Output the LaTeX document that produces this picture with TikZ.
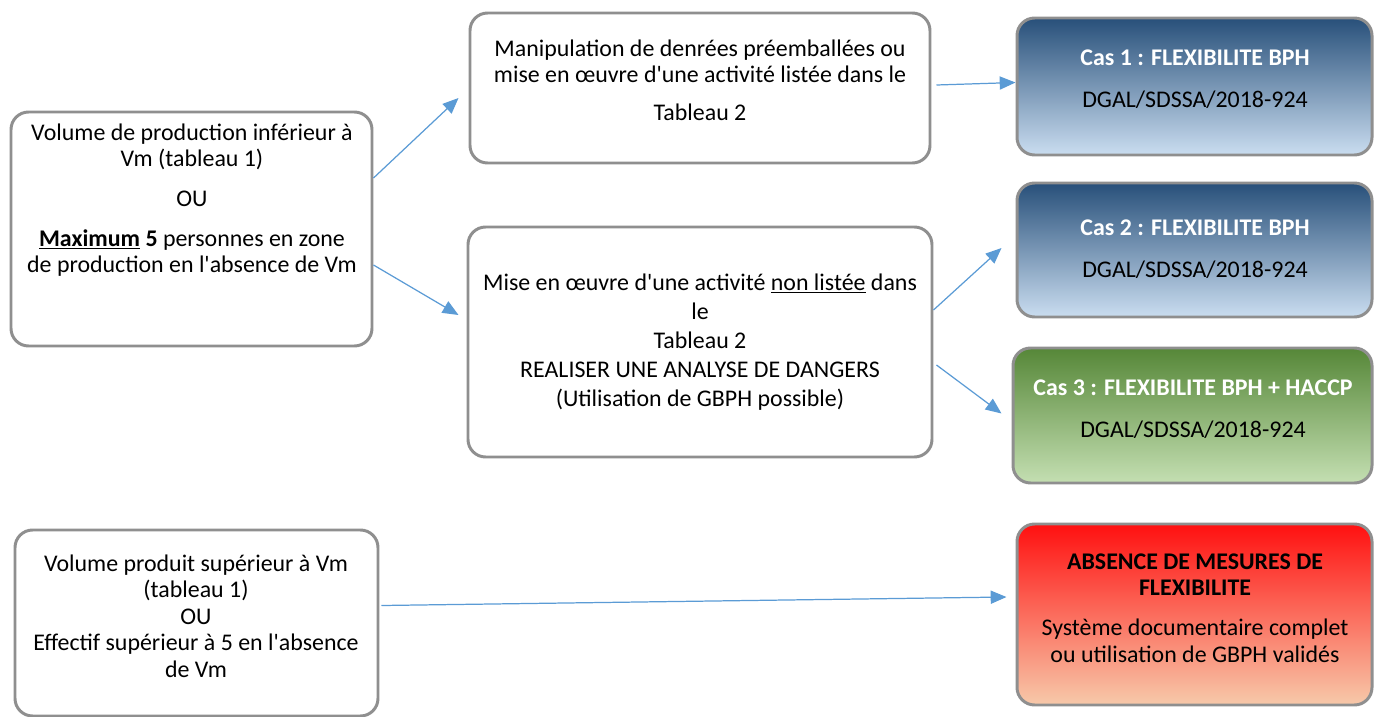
\documentclass[tikz,border=0pt]{standalone}
\usepackage{fontspec}
\setmainfont{Carlito}
\usetikzlibrary{arrows.meta, fit}
\definecolor{boxgray}{RGB}{143,143,143}
\definecolor{arrblue}{RGB}{91,155,213}
\definecolor{casbluetop}{RGB}{40,80,122}
\definecolor{casbluebot}{RGB}{202,221,240}
\definecolor{casgreentop}{RGB}{86,135,56}
\definecolor{casgreenbot}{RGB}{196,223,178}
\definecolor{absredtop}{RGB}{255,16,16}
\definecolor{absredbot}{RGB}{247,201,170}
\newcommand{\apos}{\textquotesingle}

\begin{document}
\begin{tikzpicture}[x=0.02cm, y=-0.02cm,
      every node/.style={font=\fontsize{13.6}{15.1}\selectfont, align=center},
      box/.style={draw=boxgray, line width=1.7pt, rounded corners=10pt, inner sep=0pt},
      bluecase/.style={box, top color=casbluetop, bottom color=casbluebot},
      greencase/.style={box, top color=casgreentop, bottom color=casgreenbot},
      redcase/.style={box, top color=absredtop, bottom color=absredbot},
      arr/.style={draw=arrblue, line width=0.7pt, -{Triangle[length=9pt, width=7.5pt]}}]
    \useasboundingbox (0,0) rectangle (1374,717);
    % left column
    \node[box, fit={(11,112) (372,346)}] (vol) {};
    \node (volTxt) at (192,200) {Volume de production inférieur à\\ Vm (tableau 1)\\[7.5pt] OU\\[7.5pt]
      \underline{\textbf{Maximum}} \textbf{5} personnes en zone\\ de production en l\apos absence de Vm};
    \node[box, fit={(15,530) (378,716)}] (eff) {};
    \node (effTxt) at (196,616) {Volume produit supérieur à Vm\\ (tableau 1)\\ OU\\
      Effectif supérieur à 5 en l\apos absence\\ de Vm};
    % middle column
    \node[box, fit={(470,13) (930,163)}] (manip) {};
    \node (manipTxt) at (700,80) {Manipulation de denrées préemballées ou\\
      mise en œuvre d\apos une activité listée dans le\\[6pt] Tableau 2};
    \node[box, fit={(468,227) (932,457)}] (nonlist) {};
    \node (nonlistTxt) at (700,342) {Mise en œuvre d\apos une activité \underline{non listée} dans\\[1.5pt] le\\[1.5pt]
      Tableau 2\\[1.5pt] REALISER UNE ANALYSE DE DANGERS\\[1.5pt] (Utilisation de GBPH possible)};
    % right column
    \node[bluecase, fit={(1017,18) (1372,155)}] (cas1) {};
    \node (cas1Txt) at (1195,79) {\textcolor{white}{\textbf{Cas 1 : FLEXIBILITE BPH}}\\[9pt] DGAL/SDSSA/2018-924};
    \node[bluecase, fit={(1017,183) (1372,317)}] (cas2) {};
    \node (cas2Txt) at (1195,249) {\textcolor{white}{\textbf{Cas 2 : FLEXIBILITE BPH}}\\[9pt] DGAL/SDSSA/2018-924};
    \node[greencase, fit={(1013,348) (1372,483)}] (cas3) {};
    \node (cas3Txt) at (1193,409) {\textcolor{white}{\textbf{Cas 3 : FLEXIBILITE BPH + HACCP}}\\[9pt] DGAL/SDSSA/2018-924};
    \node[redcase, fit={(1017,524) (1372,705)}] (abs) {};
    \node (absTxt) at (1195,608) {\textbf{ABSENCE DE MESURES DE}\\ \textbf{FLEXIBILITE}\\[7.5pt]
      Système documentaire complet\\ ou utilisation de GBPH validés};
    % connectors
    \draw[arr] ([yshift=1.02cm]vol.east) -- ([xshift=-0.2cm, yshift=-0.2cm]manip.west);
    \draw[arr] ([yshift=-0.72cm]vol.east) -- ([xshift=-0.16cm, yshift=0.54cm]nonlist.west);
    \draw[arr] ([xshift=0.1cm, yshift=0.06cm]manip.east) -- ([yshift=0.08cm]cas1.west);
    \draw[arr] ([yshift=0.64cm]nonlist.east) -- ([xshift=-0.28cm, yshift=0.04cm]cas2.west);
    \draw[arr] ([xshift=0.06cm, yshift=-0.46cm]nonlist.east) -- ([xshift=-0.2cm, yshift=0.04cm]cas3.west);
    \draw[arr] ([xshift=0.04cm, yshift=0.35cm]eff.east) -- ([xshift=-0.18cm, yshift=0.35cm]abs.west);
  \end{tikzpicture}
\end{document}
